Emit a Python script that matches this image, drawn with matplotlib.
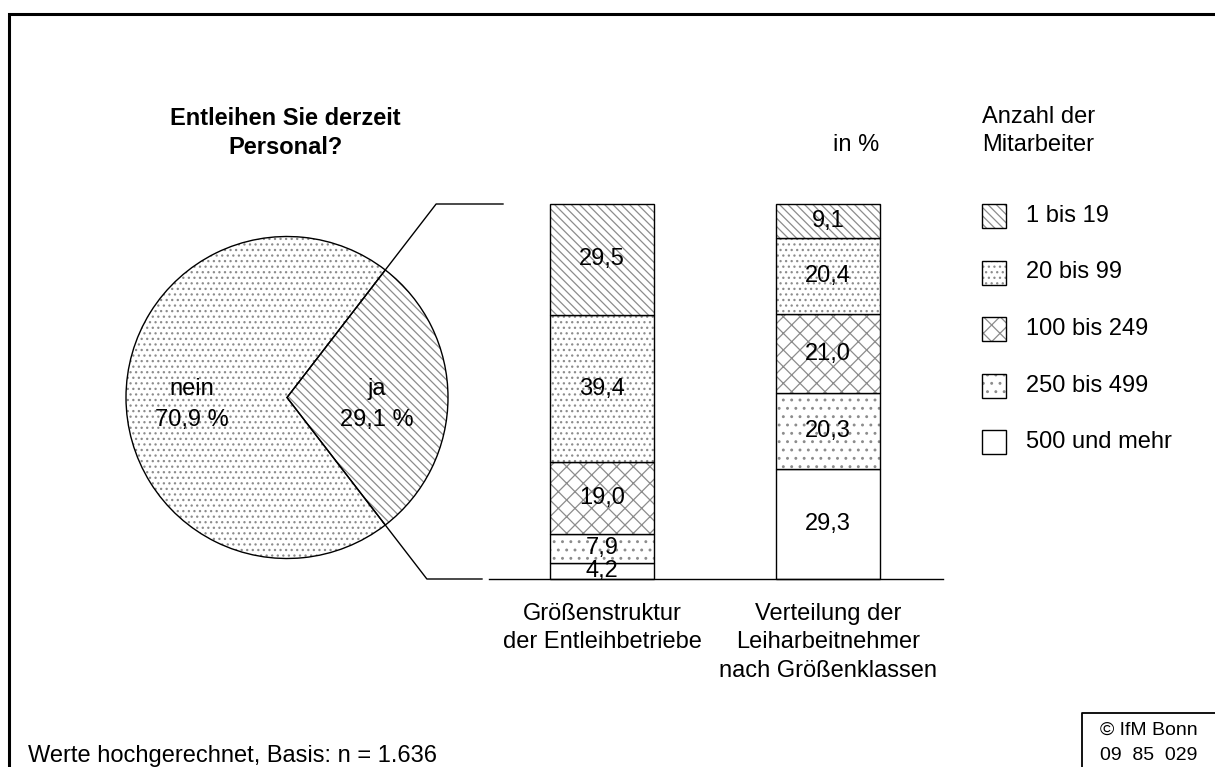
import numpy as np
import matplotlib
matplotlib.use('Agg')
from matplotlib import pyplot as plt
from matplotlib.patches import Rectangle

plt.rcParams['font.family'] = ['Liberation Sans', 'DejaVu Sans']
plt.rcParams['hatch.linewidth'] = 0.9

# data
pie_labels = ['ja', 'nein']
pie_values = [29.1, 70.9]

classes = ['1 bis 19', '20 bis 99', '100 bis 249', '250 bis 499', '500 und mehr']
betriebe = [29.5, 39.4, 19.0, 7.9, 4.2]
leiharbeitnehmer = [9.1, 20.4, 21.0, 20.3, 29.3]
bar_names = ['Größenstruktur\nder Entleihbetriebe',
             'Verteilung der\nLeiharbeitnehmer\nnach Größenklassen']

hatches = ['\\\\\\\\', '...', 'xx', '..', '']
pie_hatches = ['\\\\\\\\', '...']
hcol = '#8c8c8c'

W, H = 1215, 767
fig = plt.figure(figsize=(W / 100, H / 100), dpi=100)


def px_axes(l, t, r, b):
    return fig.add_axes([l / W, 1 - b / H, (r - l) / W, (b - t) / H])


def fmt(v):
    return f'{v:.1f}'.replace('.', ',')


# background / layout axes in pixel units
bg = fig.add_axes([0, 0, 1, 1])
bg.set_xlim(0, W)
bg.set_ylim(H, 0)
bg.axis('off')

# frame (cut at right and bottom)
bg.plot([9, 9, W], [H, 14, 14], color='black', lw=2.2, solid_joinstyle='miter')
bg.plot([1082, 1082, W], [H, 713, 713], color='black', lw=1.3)

fs = 17
bg.text(285, 133, 'Entleihen Sie derzeit\nPersonal?', ha='center', va='center',
        fontsize=fs, fontweight='bold', linespacing=1.3)
bg.text(879, 145, 'in %', ha='right', va='center', fontsize=fs)
bg.text(982, 131, 'Anzahl der\nMitarbeiter', ha='left', va='center', fontsize=fs,
        linespacing=1.37)
bg.text(28, 756, 'Werte hochgerechnet, Basis: n = 1.636', ha='left', va='center',
        fontsize=fs)
bg.text(1149, 743, '© IfM Bonn\n09  85  029', ha='center', va='center',
        fontsize=14, linespacing=1.6)

# legend
for i, (c, h) in enumerate(zip(classes, hatches)):
    y = 216 + i * 56.5
    bg.add_patch(Rectangle((982, y - 12), 24, 24, facecolor='white',
                           edgecolor=hcol, lw=0, hatch=h))
    bg.add_patch(Rectangle((982, y - 12), 24, 24, fill=False,
                           edgecolor='black', lw=1))
    bg.text(1026, y, c, ha='left', va='center', fontsize=fs)

# pie
cx, cy, r = 287, 397.5, 161
axp = px_axes(cx - r, cy - r, cx + r, cy + r)
half = pie_values[0] * 3.6 / 2
wedges, _ = axp.pie(pie_values, startangle=-half, counterclock=True,
                    wedgeprops=dict(facecolor='white', edgecolor=hcol, lw=0))
for w, h in zip(wedges, pie_hatches):
    w.set_hatch(h)
axp.pie(pie_values, startangle=-half, counterclock=True,
        wedgeprops=dict(fill=False, edgecolor='black', lw=1))
axp.set_xlim(-1, 1)
axp.set_ylim(-1, 1)
axp.axis('off')

axp.text(0.56, -0.045, 'ja\n' + fmt(pie_values[0]) + ' %', ha='center', va='center',
         fontsize=fs, linespacing=1.5)
axp.text(-0.59, -0.045, 'nein\n' + fmt(pie_values[1]) + ' %', ha='center', va='center',
         fontsize=fs, linespacing=1.5)

# connector lines, extension of the "ja" wedge edges
top_y, bot_y = 204, 579
ang = np.deg2rad(half)
x_top = cx + (cy - top_y) / np.tan(ang)
x_bot = cx + (bot_y - cy) / np.tan(ang)
bg.plot([cx + r * np.cos(ang), x_top, 503], [cy - r * np.sin(ang), top_y, top_y],
        color='black', lw=1)
bg.plot([cx + r * np.cos(ang), x_bot, 482], [cy + r * np.sin(ang), bot_y, bot_y],
        color='black', lw=1)

# stacked bars
axb = px_axes(489, top_y, 943, bot_y)
unit = 226
x = np.arange(2)
width = 104 / unit
for j, vals in enumerate([betriebe, leiharbeitnehmer]):
    bottom = 0
    for v, h in zip(vals[::-1], hatches[::-1]):
        axb.bar(x[j], v, width, bottom=bottom, color='white', edgecolor=hcol,
                lw=0, hatch=h, clip_on=False)
        axb.bar(x[j], v, width, bottom=bottom, fill=False, edgecolor='black',
                lw=1, clip_on=False)
        axb.text(x[j], bottom + v / 2, fmt(v), ha='center', va='center',
                 fontsize=fs, clip_on=False)
        bottom += v
    axb.text(x[j], -6.4, bar_names[j], ha='center', va='top', fontsize=fs,
             linespacing=1.37)

axb.set_ylim(0, 100)
axb.set_xlim((489 - 602) / unit, (943 - 602) / unit)
axb.set_xticks([])
axb.set_yticks([])
for s in ['top', 'left', 'right']:
    axb.spines[s].set_visible(False)
axb.spines['bottom'].set_linewidth(1)
axb.patch.set_alpha(0)

fig.savefig('out.png', dpi=100)
